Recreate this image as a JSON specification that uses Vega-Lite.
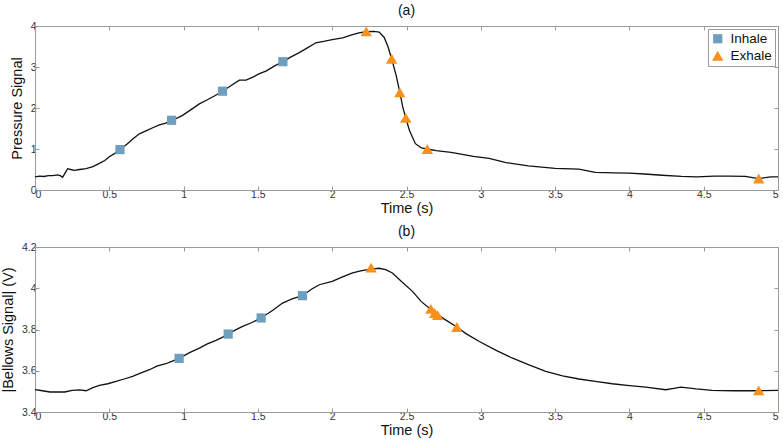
{
  "$schema": "https://vega.github.io/schema/vega-lite/v6.json",
  "padding": {"left": 0, "top": 4, "right": 4, "bottom": 2},
  "background": "white",
  "spacing": 10,
  "config": {
    "font": "Liberation Sans",
    "view": {"stroke": null},
    "axis": {
      "grid": false,
      "domainColor": "#9a9a9a",
      "tickColor": "#9a9a9a",
      "tickSize": -4,
      "labelFontSize": 10.5,
      "labelColor": "#333",
      "labelPadding": 3,
      "format": "~g",
      "titleFontSize": 14.5,
      "titleFontWeight": "normal",
      "titleColor": "#111"
    },
    "title": {"fontSize": 14, "fontWeight": "normal", "color": "#111", "offset": 3}
  },
  "datasets": {
    "la": [
      {"t":0.0,"v":0.32},{"t":0.03,"v":0.34},{"t":0.06,"v":0.33},{"t":0.09,"v":0.35},{"t":0.12,"v":0.35},{"t":0.15,"v":0.37},{"t":0.17,"v":0.35},{"t":0.186,"v":0.31},{"t":0.2,"v":0.4},{"t":0.22,"v":0.52},{"t":0.24,"v":0.5},{"t":0.265,"v":0.48},{"t":0.3,"v":0.5},{"t":0.344,"v":0.52},{"t":0.39,"v":0.57},{"t":0.433,"v":0.65},{"t":0.47,"v":0.72},{"t":0.5,"v":0.81},{"t":0.54,"v":0.9},{"t":0.572,"v":0.985},{"t":0.62,"v":1.12},{"t":0.66,"v":1.25},{"t":0.702,"v":1.37},{"t":0.75,"v":1.45},{"t":0.8,"v":1.53},{"t":0.837,"v":1.59},{"t":0.88,"v":1.63},{"t":0.919,"v":1.7},{"t":0.96,"v":1.76},{"t":0.993,"v":1.82},{"t":1.05,"v":1.96},{"t":1.106,"v":2.1},{"t":1.16,"v":2.2},{"t":1.21,"v":2.3},{"t":1.262,"v":2.41},{"t":1.32,"v":2.55},{"t":1.375,"v":2.68},{"t":1.42,"v":2.68},{"t":1.47,"v":2.76},{"t":1.51,"v":2.84},{"t":1.554,"v":2.9},{"t":1.61,"v":3.02},{"t":1.668,"v":3.13},{"t":1.72,"v":3.24},{"t":1.778,"v":3.35},{"t":1.83,"v":3.46},{"t":1.89,"v":3.59},{"t":1.95,"v":3.63},{"t":2.0,"v":3.67},{"t":2.07,"v":3.71},{"t":2.137,"v":3.79},{"t":2.18,"v":3.83},{"t":2.229,"v":3.86},{"t":2.28,"v":3.87},{"t":2.316,"v":3.85},{"t":2.35,"v":3.72},{"t":2.375,"v":3.5},{"t":2.4,"v":3.2},{"t":2.43,"v":2.8},{"t":2.455,"v":2.38},{"t":2.475,"v":2.02},{"t":2.495,"v":1.76},{"t":2.52,"v":1.45},{"t":2.56,"v":1.13},{"t":2.6,"v":1.03},{"t":2.64,"v":1.0},{"t":2.7,"v":0.96},{"t":2.8,"v":0.92},{"t":2.876,"v":0.87},{"t":2.95,"v":0.82},{"t":3.056,"v":0.77},{"t":3.17,"v":0.67},{"t":3.32,"v":0.59},{"t":3.5,"v":0.525},{"t":3.66,"v":0.51},{"t":3.77,"v":0.43},{"t":3.9,"v":0.42},{"t":4.0,"v":0.41},{"t":4.1,"v":0.39},{"t":4.22,"v":0.36},{"t":4.35,"v":0.33},{"t":4.45,"v":0.32},{"t":4.57,"v":0.34},{"t":4.67,"v":0.34},{"t":4.78,"v":0.33},{"t":4.87,"v":0.28},{"t":4.95,"v":0.32},{"t":5.0,"v":0.32}
    ],
    "ma": [
      {"t":0.572,"v":0.985,"phase":"Inhale"},{"t":0.919,"v":1.7,"phase":"Inhale"},{"t":1.262,"v":2.41,"phase":"Inhale"},{"t":1.668,"v":3.13,"phase":"Inhale"},
      {"t":2.229,"v":3.87,"phase":"Exhale"},{"t":2.4,"v":3.2,"phase":"Exhale"},{"t":2.455,"v":2.38,"phase":"Exhale"},{"t":2.495,"v":1.76,"phase":"Exhale"},{"t":2.64,"v":1.0,"phase":"Exhale"},{"t":4.87,"v":0.28,"phase":"Exhale"}
    ],
    "lb": [
      {"t":0.0,"v":3.508},{"t":0.05,"v":3.503},{"t":0.1,"v":3.497},{"t":0.15,"v":3.497},{"t":0.2,"v":3.497},{"t":0.25,"v":3.505},{"t":0.3,"v":3.507},{"t":0.344,"v":3.503},{"t":0.39,"v":3.518},{"t":0.433,"v":3.529},{"t":0.49,"v":3.537},{"t":0.545,"v":3.548},{"t":0.6,"v":3.56},{"t":0.657,"v":3.573},{"t":0.71,"v":3.588},{"t":0.77,"v":3.605},{"t":0.82,"v":3.622},{"t":0.88,"v":3.634},{"t":0.92,"v":3.645},{"t":0.97,"v":3.66},{"t":1.04,"v":3.688},{"t":1.106,"v":3.71},{"t":1.16,"v":3.73},{"t":1.218,"v":3.747},{"t":1.26,"v":3.762},{"t":1.3,"v":3.778},{"t":1.35,"v":3.798},{"t":1.397,"v":3.815},{"t":1.46,"v":3.834},{"t":1.522,"v":3.856},{"t":1.6,"v":3.893},{"t":1.666,"v":3.928},{"t":1.73,"v":3.948},{"t":1.8,"v":3.964},{"t":1.86,"v":3.995},{"t":1.913,"v":4.017},{"t":2.0,"v":4.033},{"t":2.07,"v":4.055},{"t":2.137,"v":4.074},{"t":2.2,"v":4.085},{"t":2.262,"v":4.093},{"t":2.316,"v":4.097},{"t":2.36,"v":4.09},{"t":2.405,"v":4.074},{"t":2.47,"v":4.03},{"t":2.54,"v":3.985},{"t":2.6,"v":3.935},{"t":2.664,"v":3.897},{"t":2.71,"v":3.873},{"t":2.76,"v":3.848},{"t":2.839,"v":3.812},{"t":2.9,"v":3.78},{"t":2.99,"v":3.742},{"t":3.1,"v":3.7},{"t":3.21,"v":3.662},{"t":3.32,"v":3.63},{"t":3.437,"v":3.597},{"t":3.55,"v":3.575},{"t":3.66,"v":3.56},{"t":3.77,"v":3.548},{"t":3.885,"v":3.537},{"t":4.0,"v":3.528},{"t":4.11,"v":3.521},{"t":4.244,"v":3.508},{"t":4.3,"v":3.515},{"t":4.345,"v":3.521},{"t":4.45,"v":3.512},{"t":4.557,"v":3.505},{"t":4.7,"v":3.503},{"t":4.87,"v":3.503},{"t":5.0,"v":3.505}
    ],
    "mb": [
      {"t":0.97,"v":3.66,"phase":"Inhale"},{"t":1.3,"v":3.778,"phase":"Inhale"},{"t":1.522,"v":3.856,"phase":"Inhale"},{"t":1.8,"v":3.964,"phase":"Inhale"},
      {"t":2.262,"v":4.1,"phase":"Exhale"},{"t":2.664,"v":3.9,"phase":"Exhale"},{"t":2.69,"v":3.88,"phase":"Exhale"},{"t":2.71,"v":3.87,"phase":"Exhale"},{"t":2.839,"v":3.812,"phase":"Exhale"},{"t":4.87,"v":3.505,"phase":"Exhale"}
    ]
  },
  "resolve": {"scale": {"color": "independent", "shape": "independent", "size": "independent"}, "legend": {"color": "independent", "shape": "independent", "size": "independent"}},
  "vconcat": [
    {
      "width": 743,
      "height": 164,
      "title": "(a)",
      "layer": [
        {
          "data": {"name": "la"},
          "mark": {"type": "line", "color": "#111", "strokeWidth": 1.3},
          "encoding": {
            "x": {"field": "t", "type": "quantitative", "scale": {"domain": [0, 5], "nice": false}, "axis": {"title": "Time (s)", "values": [0,0.5,1,1.5,2,2.5,3,3.5,4,4.5,5], "titlePadding": 2}},
            "y": {"field": "v", "type": "quantitative", "scale": {"domain": [0, 4], "nice": false}, "axis": {"title": "Pressure Signal", "values": [0,1,2,3,4], "titlePadding": 6}}
          }
        },
        {
          "data": {"name": "ma"},
          "mark": {"type": "point", "filled": true, "opacity": 1},
          "encoding": {
            "x": {"field": "t", "type": "quantitative", "axis": {"orient": "top", "labels": false, "title": null, "values": [0,0.5,1,1.5,2,2.5,3,3.5,4,4.5,5]}},
            "y": {"field": "v", "type": "quantitative", "axis": {"orient": "right", "labels": false, "title": null, "values": [0,1,2,3,4]}},
            "color": {"field": "phase", "type": "nominal", "scale": {"domain": ["Inhale", "Exhale"], "range": ["#6f9fbf", "#f8901e"]}, "legend": {"orient": "top-right", "title": null, "offset": 3, "strokeColor": "#9a9a9a", "fillColor": "white", "padding": 3, "labelFontSize": 13.5, "labelColor": "#111", "rowPadding": 2, "labelOffset": 6}},
            "shape": {"field": "phase", "type": "nominal", "scale": {"domain": ["Inhale", "Exhale"], "range": ["square", "triangle-up"]}},
            "size": {"field": "phase", "type": "nominal", "scale": {"domain": ["Inhale", "Exhale"], "range": [85, 130]}}
          }
        }
      ],
      "resolve": {"axis": {"x": "independent", "y": "independent"}}
    },
    {
      "width": 743,
      "height": 165,
      "title": "(b)",
      "layer": [
        {
          "data": {"name": "lb"},
          "mark": {"type": "line", "color": "#111", "strokeWidth": 1.3},
          "encoding": {
            "x": {"field": "t", "type": "quantitative", "scale": {"domain": [0, 5], "nice": false}, "axis": {"title": "Time (s)", "values": [0,0.5,1,1.5,2,2.5,3,3.5,4,4.5,5], "titlePadding": 2}},
            "y": {"field": "v", "type": "quantitative", "scale": {"domain": [3.4, 4.2], "nice": false, "zero": false}, "axis": {"title": "|Bellows Signal| (V)", "values": [3.4,3.6,3.8,4,4.2], "titlePadding": 6}}
          }
        },
        {
          "data": {"name": "mb"},
          "mark": {"type": "point", "filled": true, "opacity": 1},
          "encoding": {
            "x": {"field": "t", "type": "quantitative", "axis": {"orient": "top", "labels": false, "title": null, "values": [0,0.5,1,1.5,2,2.5,3,3.5,4,4.5,5]}},
            "y": {"field": "v", "type": "quantitative", "axis": {"orient": "right", "labels": false, "title": null, "values": [3.4,3.6,3.8,4,4.2]}},
            "color": {"field": "phase", "type": "nominal", "scale": {"domain": ["Inhale", "Exhale"], "range": ["#6f9fbf", "#f8901e"]}, "legend": null},
            "shape": {"field": "phase", "type": "nominal", "scale": {"domain": ["Inhale", "Exhale"], "range": ["square", "triangle-up"]}, "legend": null},
            "size": {"field": "phase", "type": "nominal", "scale": {"domain": ["Inhale", "Exhale"], "range": [85, 130]}, "legend": null}
          }
        }
      ],
      "resolve": {"axis": {"x": "independent", "y": "independent"}}
    }
  ]
}
